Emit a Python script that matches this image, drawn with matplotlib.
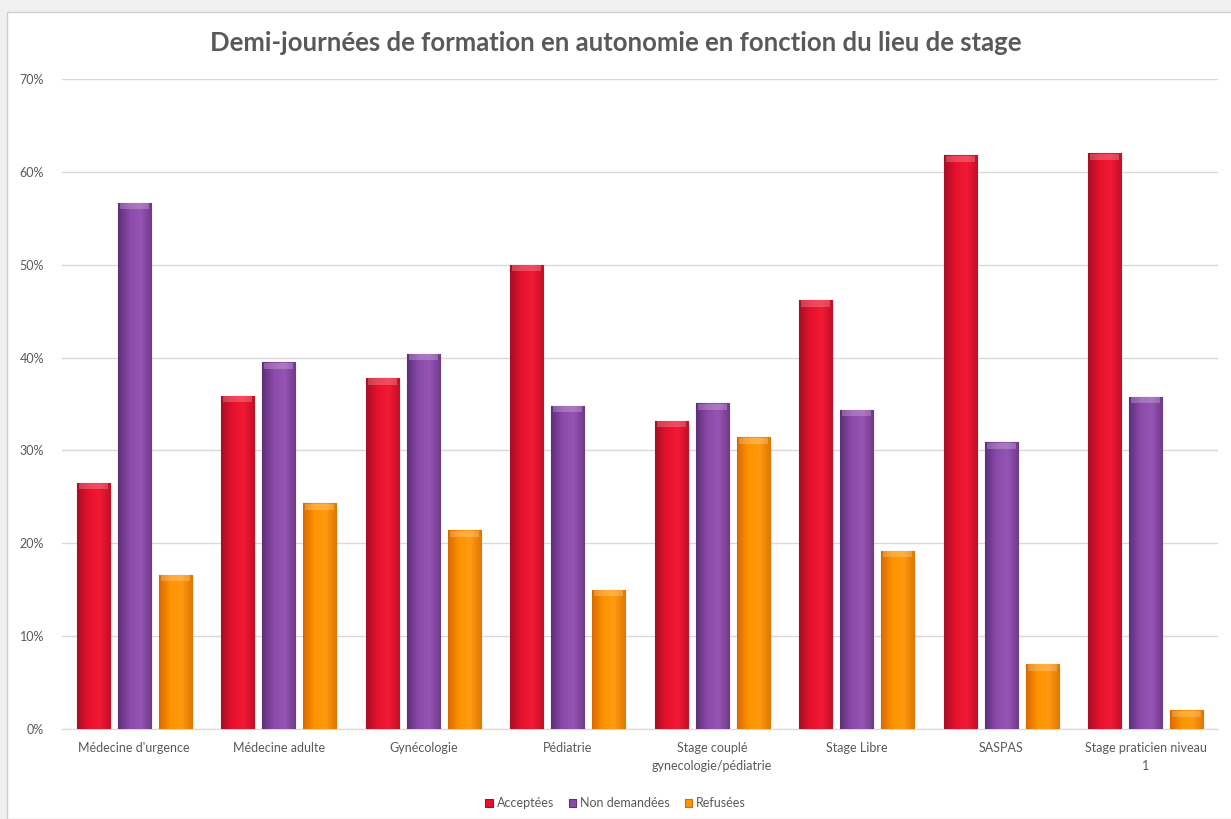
import numpy as np
import matplotlib
matplotlib.use("Agg")
import matplotlib.pyplot as plt
from matplotlib.colors import LinearSegmentedColormap
from matplotlib.patches import Rectangle

plt.rcParams['font.family'] = ['Lato', 'DejaVu Sans']

lieux = ["Médecine d'urgence", "Médecine adulte", "Gynécologie", "Pédiatrie",
         "Stage couplé\ngynecologie/pédiatrie", "Stage Libre", "SASPAS",
         "Stage praticien niveau\n1"]
acceptees = [26.5, 35.9, 37.8, 50.0, 33.2, 46.2, 61.8, 62.0]
non_demandees = [56.7, 39.5, 40.4, 34.8, 35.1, 34.4, 30.9, 35.8]
refusees = [16.6, 24.3, 21.4, 15.0, 31.4, 19.2, 7.0, 2.0]

series = [("Acceptées", acceptees, ["#a50f25", "#e8112d", "#f01a35", "#c40e27"]),
          ("Non demandées", non_demandees, ["#5e2f7a", "#8a4aa8", "#9655b4", "#6e3a8c"]),
          ("Refusées", refusees, ["#d96a00", "#ff9300", "#ff9a10", "#e07800"])]

gris = "#595959"
fig = plt.figure(figsize=(12.31, 8.19), dpi=100, facecolor="#f0f0f0")
fig.patches.append(Rectangle((7 / 1231, 0), 1, 1 - 12 / 819, transform=fig.transFigure,
                             facecolor="white", edgecolor="#d0d0d0", lw=1, zorder=-10))

ax = fig.add_axes([62 / 1231, 90 / 819, 1156 / 1231, 650 / 819])
ax.set_facecolor("white")

x = np.arange(len(lieux))
w = 0.23
step = 0.283
grad = np.linspace(0, 1, 64).reshape(1, -1)
for i, (nom, vals, cols) in enumerate(series):
    cmap = LinearSegmentedColormap.from_list(nom, cols)
    bars = ax.bar(x + (i - 1) * step, vals, w, color=cols[1], edgecolor=cols[0],
                  lw=0.8, zorder=3, label=nom)
    for b in bars:
        x0, h = b.get_x(), b.get_height()
        im = ax.imshow(grad, cmap=cmap, extent=(x0, x0 + w, 0, h), aspect="auto",
                       zorder=3.5)
        im.set_clip_path(b)
        # biseau clair en haut de la barre
        ax.add_patch(Rectangle((x0 + w * 0.06, h - 0.7), w * 0.88, 0.65,
                               facecolor="white", alpha=0.22, lw=0, zorder=4))

ax.set_xlim(-0.5, len(lieux) - 0.5)
ax.set_ylim(0, 70)
ax.set_yticks(np.arange(0, 71, 10))
ax.set_yticklabels([f"{v}%" for v in range(0, 71, 10)], fontsize=9, color=gris)
ax.set_xticks(x)
ax.set_xticklabels(lieux, fontsize=9, color=gris, linespacing=1.6)
ax.tick_params(length=0, axis="y", pad=13)
ax.tick_params(length=0, axis="x", pad=9)
ax.grid(axis="y", color="#d9d9d9", lw=1, zorder=0)
for s in ["top", "right", "left"]:
    ax.spines[s].set_visible(False)
ax.spines["bottom"].set_color("#d9d9d9")

fig.text(0.5, 1 - 43 / 819, "Demi-journées de formation en autonomie en fonction du lieu de stage",
         ha="center", va="center", fontsize=18.5, fontweight="bold", color=gris)

fig.legend(loc="center", bbox_to_anchor=(0.5, 1 - 803 / 819), ncol=3, frameon=False,
           fontsize=9, labelcolor=gris, handlelength=0.6, handleheight=0.6,
           handletextpad=0.3, columnspacing=1.2)

fig.savefig("out.png", dpi=100, facecolor=fig.get_facecolor())
